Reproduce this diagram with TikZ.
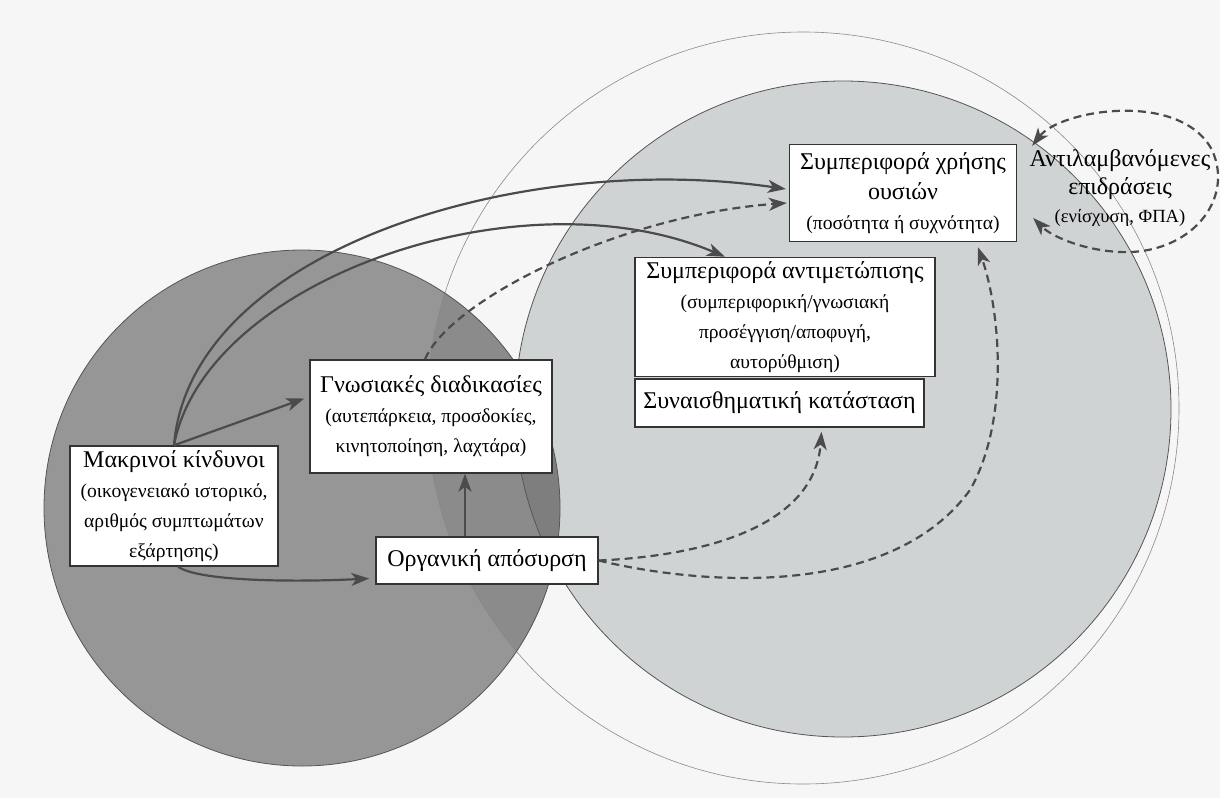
\documentclass[tikz,border=0pt]{standalone}
\usepackage{fontspec}
\setmainfont{Liberation Serif}
\usepackage{tikz}
\usetikzlibrary{calc}
\usetikzlibrary{arrows.meta}

\definecolor{paper}{HTML}{F6F6F6}
\definecolor{darkdisc}{HTML}{969696}
\definecolor{darkthin}{HTML}{8B8B8B}
\definecolor{lightdisc}{HTML}{D0D3D4}
\definecolor{darkboth}{HTML}{7E7E7E}
\definecolor{discline}{HTML}{555555}
\definecolor{thinline}{HTML}{8A8A8A}
\definecolor{arrowgray}{HTML}{4B4B4B}
\definecolor{boxline}{HTML}{333333}

\newcommand\subfont{\fontsize{9.8}{13}\selectfont}

\begin{document}
\begin{tikzpicture}[x=0.5pt,y=-0.5pt,
    box/.style={draw=boxline,line width=0.7pt,fill=white,align=center,inner sep=2pt,
        font=\fontsize{12}{15}\selectfont},
    link/.style={draw=arrowgray,line width=1.1pt,-{Stealth[length=9pt,width=6.5pt,inset=2.5pt]}},
    dlink/.style={link,dash pattern=on 4pt off 2.5pt}]

    \useasboundingbox (0,0) rectangle (1220,798);
    \fill[paper] (0,0) rectangle (1220,798);

    % The three discs
    \def\darkc{(302,508) circle (258)}
    \def\lightc{(843,409) circle (328)}
    \def\thinc{(803,408) circle (376)}

    \fill[darkdisc] \darkc;
    \begin{scope}
        \clip \darkc;
        \fill[darkthin] \thinc;
    \end{scope}
    \fill[lightdisc] \lightc;
    \begin{scope}
        \clip \lightc;
        \fill[darkboth] \darkc;
    \end{scope}
    \draw[thinline,line width=0.3pt] \thinc;
    \draw[discline,line width=0.4pt] \lightc;
    \draw[discline,line width=0.4pt] \darkc;

    % Boxes
    \node[box,minimum width=113.5pt,minimum height=48.5pt] (usage) at (903,193)
        {Συμπεριφορά χρήσης\\ουσιών\\{\subfont(ποσότητα ή συχνότητα)}};
    \node[box,minimum width=150pt,minimum height=58pt] (coping) at (785,317)
        {Συμπεριφορά αντιμετώπισης\\{\subfont(συμπεριφορική/γνωσιακή}\\{\subfont προσέγγιση/αποφυγή,}\\{\subfont αυτορύθμιση)}};
    \node[box,minimum width=144.5pt,minimum height=24pt] (emotion) at (779.5,403)
        {Συναισθηματική κατάσταση};
    \node[box,minimum width=121pt,minimum height=56.5pt] (cognitive) at (431,416.5)
        {Γνωσιακές διαδικασίες\\{\subfont(αυτεπάρκεια, προσδοκίες,}\\{\subfont κινητοποίηση, λαχτάρα)}};
    \node[box,minimum width=104pt,minimum height=60pt] (risk) at (174,506)
        {Μακρινοί κίνδυνοι\\{\subfont(οικογενειακό ιστορικό,}\\{\subfont αριθμός συμπτωμάτων}\\{\subfont εξάρτησης)}};
    \node[box,minimum width=111pt,minimum height=23.5pt] (withdrawal) at (487,560.5)
        {Οργανική απόσυρση};
    \node[align=center,inner sep=0pt,font=\fontsize{12}{14}\selectfont] (effects) at (1120,188)
        {Αντιλαμβανόμενες\\επιδράσεις\\{\fontsize{9.3}{13}\selectfont(ενίσχυση, ΦΠΑ)}};

    % Solid links
    \draw[link] (risk.north) .. controls (190,250) and (520,150) .. ($(usage.west)+(-3,-4)$);
    \draw[link] (risk.north) .. controls (205,280) and (520,170) .. ($(coping.north)+(-60,0)$);
    \draw[link] (risk.north) -- ($(cognitive.west)+(-5,-18)$);
    \draw[link] ($(risk.south)+(4,0)$) .. controls (200,582) and (300,582) .. ($(withdrawal.west)+(-6,18)$);
    \draw[link] ($(withdrawal.north)+(-22,0)$) -- ($(cognitive.south)+(34,0)$);

    % Dashed links
    \draw[dlink] ($(cognitive.north)+(-6,0)$) .. controls (450,300) and (620,215) .. ($(usage.west)+(-2,10)$);
    \draw[dlink] (withdrawal.east) .. controls (720,555) and (815,520) .. ($(emotion.south)+(42,4)$);
    \draw[dlink] (withdrawal.east) .. controls (700,585) and (890,600) .. (970,490)
        .. controls (1010,420) and (1000,310) .. ($(usage.south)+(75,5)$);

    % Loop of the perceived effects
    \coordinate (loopA) at ($(usage.north east)+(15,2)$);
    \coordinate (loopB) at ($(usage.east)+(16,25)$);
    \draw[dlink,{Stealth[length=9pt,width=6.5pt,inset=2.5pt]}-{Stealth[length=9pt,width=6.5pt,inset=2.5pt]}]
        (loopA) .. controls (1060,110) and (1180,90) .. (1212,150)
        .. controls (1235,200) and (1190,255) .. (1120,252)
        .. controls (1080,250) and (1050,235) .. (loopB);
\end{tikzpicture}
\end{document}
